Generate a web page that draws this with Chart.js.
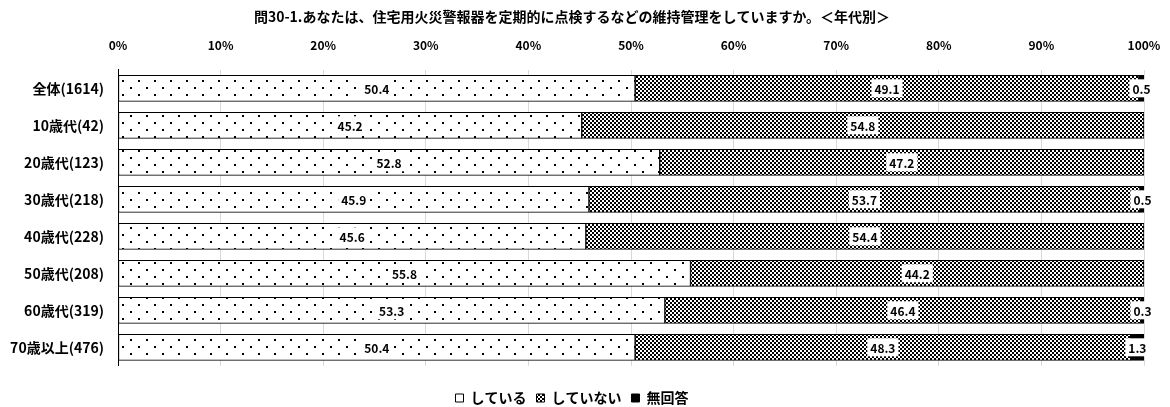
<!DOCTYPE html>
<html>
<head>
<meta charset="utf-8">
<script src="https://cdn.jsdelivr.net/npm/chart.js@4.4.0/dist/chart.umd.min.js"></script>
<style>
    html, body { margin: 0; padding: 0; background: #fff; }
    #wrap { width: 1170px; height: 407px; }
</style>
</head>
<body>
<div id="wrap"><canvas id="chart" width="1170" height="407"></canvas></div>
<script>
const titleText = '問30-1.あなたは、住宅用火災警報器を定期的に点検するなどの維持管理をしていますか。＜年代別＞';
const categories = ['全体(1614)', '10歳代(42)', '20歳代(123)', '30歳代(218)', '40歳代(228)', '50歳代(208)', '60歳代(319)', '70歳以上(476)'];
const seriesNames = ['している', 'していない', '無回答'];
const doing = [50.4, 45.2, 52.8, 45.9, 45.6, 55.8, 53.3, 50.4];
const notDoing = [49.1, 54.8, 47.2, 53.7, 54.4, 44.2, 46.4, 48.3];
const noAnswer = [0.5, 0, 0, 0.5, 0, 0, 0.3, 1.3];
const xTicks = [0, 10, 20, 30, 40, 50, 60, 70, 80, 90, 100];

const FONT = "'Noto Sans CJK JP', 'Noto Sans', sans-serif";

// fill patterns
function dotPattern() {
    const c = document.createElement('canvas');
    c.width = 16; c.height = 14;
    const g = c.getContext('2d');
    g.fillStyle = '#fff';
    g.fillRect(0, 0, 16, 14);
    g.fillStyle = '#000';
    g.fillRect(2, 3, 2, 2);
    g.fillRect(10, 10, 2, 2);
    return g.createPattern(c, 'repeat');
}

function checkerPattern() {
    const c = document.createElement('canvas');
    c.width = 4; c.height = 4;
    const g = c.getContext('2d');
    g.fillStyle = '#fff';
    g.fillRect(0, 0, 4, 4);
    g.fillStyle = '#000';
    g.fillRect(0, 0, 2, 2);
    g.fillRect(2, 2, 2, 2);
    return g.createPattern(c, 'repeat');
}

// value labels with white box
const valueLabels = {
    id: 'valueLabels',
    afterDatasetsDraw(chart) {
        const ctx = chart.ctx;
        ctx.save();
        ctx.font = 'bold 12px ' + FONT;
        ctx.textAlign = 'center';
        ctx.textBaseline = 'middle';
        chart.data.datasets.forEach((ds, di) => {
            const meta = chart.getDatasetMeta(di);
            meta.data.forEach((bar, i) => {
                const v = ds.data[i];
                if (!v) return;
                const txt = v.toFixed(1);
                const cx = (bar.x + bar.base) / 2;
                const w = ctx.measureText(txt).width + 6;
                ctx.fillStyle = '#fff';
                ctx.fillRect(cx - w / 2, bar.y - 9, w, 18);
                ctx.fillStyle = '#000';
                ctx.fillText(txt, cx, bar.y + 1);
            });
        });
        ctx.restore();
    }
};

new Chart(document.getElementById('chart'), {
    type: 'bar',
    data: {
        labels: categories,
        datasets: [
            { label: seriesNames[0], data: doing, backgroundColor: dotPattern(), borderColor: '#000', borderWidth: 1, borderSkipped: false },
            { label: seriesNames[1], data: notDoing, backgroundColor: checkerPattern(), borderColor: '#000', borderWidth: 1, borderSkipped: false },
            { label: seriesNames[2], data: noAnswer, backgroundColor: '#000', borderColor: '#000', borderWidth: 1, borderSkipped: false }
        ]
    },
    options: {
        indexAxis: 'y',
        responsive: false,
        animation: false,
        barThickness: 26,
        layout: { padding: { left: 0, right: 26, top: 4, bottom: -8 } },
        plugins: {
            title: {
                display: true,
                text: titleText,
                color: '#000',
                font: { family: FONT, size: 14, weight: 'bold' },
                padding: { top: 4, bottom: 0 }
            },
            legend: {
                position: 'bottom',
                title: { display: true, text: '', font: { size: 1 }, padding: { top: 0, bottom: 14 } },
                labels: {
                    color: '#000',
                    font: { family: FONT, size: 14, weight: 'bold' },
                    boxWidth: 8,
                    boxHeight: 8,
                    padding: 10
                }
            },
            tooltip: { enabled: false }
        },
        scales: {
            x: {
                position: 'top',
                stacked: true,
                min: 0,
                max: 100,
                afterBuildTicks: (scale) => { scale.ticks = xTicks.map(v => ({ value: v })); },
                afterFit: (scale) => { scale.height = 45; },
                ticks: {
                    color: '#000',
                    font: { family: FONT, size: 12, weight: 'bold' },
                    padding: 3,
                    callback: (v) => v + '%'
                },
                grid: { color: '#d9d9d9', drawTicks: true, tickLength: 14, tickColor: 'rgba(0,0,0,0)' },
                border: { display: false }
            },
            y: {
                stacked: true,
                afterFit: (scale) => { scale.width = 118; },
                ticks: {
                    color: '#000',
                    font: { family: FONT, size: 14, weight: 'bold' },
                    padding: 6
                },
                grid: { display: false },
                border: { display: true, color: '#000', width: 1 }
            }
        }
    },
    plugins: [valueLabels]
});
</script>
</body>
</html>
